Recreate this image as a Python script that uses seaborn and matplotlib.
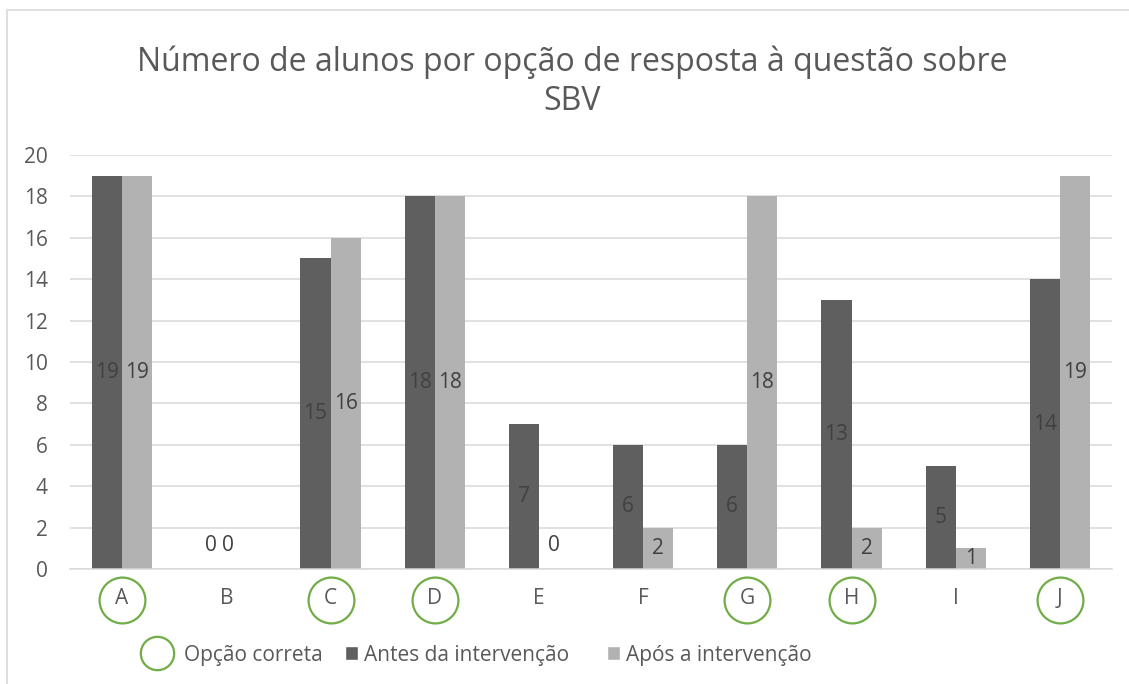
import pandas as pd
import seaborn as sns
import matplotlib.pyplot as plt
from matplotlib.lines import Line2D
from matplotlib.patches import Patch, Rectangle
import matplotlib.transforms as mtransforms

# data
options = ["A", "B", "C", "D", "E", "F", "G", "H", "I", "J"]
antes = [19, 0, 15, 18, 7, 6, 6, 13, 5, 14]
apos = [19, 0, 16, 18, 0, 2, 18, 2, 1, 19]
correct = ["A", "C", "D", "G", "H", "J"]
series = ["Antes da intervenção", "Após a intervenção"]
title = "Número de alunos por opção de resposta à questão sobre\nSBV"

DARK = "#5f5f5f"
LIGHT = "#b2b2b2"
GREEN = "#70ad47"
TEXT = "#595959"
GRID = "#d9d9d9"
FS = 15

df = pd.DataFrame({
    "opcao": options * 2,
    "n": antes + apos,
    "momento": [series[0]] * len(options) + [series[1]] * len(options),
})

sns.set_style("white")
plt.rcParams["font.family"] = ["Open Sans", "DejaVu Sans"]

fig = plt.figure(figsize=(11.29, 6.84), dpi=100)
ax = fig.add_axes([70 / 1129, 1 - 569 / 684, (1112 - 70) / 1129, (569 - 155) / 684])

sns.barplot(data=df, x="opcao", y="n", hue="momento", order=options,
            hue_order=series, palette=[DARK, LIGHT], width=0.576,
            saturation=1, legend=False, linewidth=0, edgecolor="none", ax=ax)

# value labels, centred in each bar (zero bars get the label just above the axis;
# when both bars of an option are zero the two labels sit close together)
both_zero = [a == 0 and b == 0 for a, b in zip(antes, apos)]
for k, cont in enumerate(ax.containers):
    for i, bar in enumerate(cont):
        h = bar.get_height()
        y = h / 2 if h > 0 else 1.15
        x = bar.get_x() + bar.get_width() / 2
        if both_zero[i] and k == 1:
            x -= bar.get_width() * 0.45
        ax.text(x, y, f"{int(h)}", ha="center", va="center",
                fontsize=FS, color="#404040")

ax.set_ylim(0, 20)
ax.set_xlim(-0.5, len(options) - 0.5)
ax.set_yticks(range(0, 21, 2))
ax.yaxis.grid(True, color=GRID, linewidth=1.1)
ax.set_axisbelow(True)
for s in ["top", "right", "left"]:
    ax.spines[s].set_visible(False)
ax.spines["bottom"].set_color(GRID)
ax.spines["bottom"].set_linewidth(1.1)
ax.tick_params(axis="both", length=0, labelsize=FS, labelcolor=TEXT)
ax.tick_params(axis="y", pad=16)
ax.tick_params(axis="x", pad=14)
ax.set_xlabel("")
ax.set_ylabel("")

# green circles round the correct options
trans = mtransforms.blended_transform_factory(ax.transData, ax.transAxes)
cx = [options.index(c) for c in correct]
ax.plot(cx, [-0.075] * len(cx), linestyle="none", marker="o", markersize=33,
        markerfacecolor="none", markeredgecolor=GREEN, markeredgewidth=1.6,
        transform=trans, clip_on=False)

fig.text(0.507, 1 - 82 / 684, title, ha="center", va="center", fontsize=23,
         color=TEXT, linespacing=1.25)

ly = 1 - 655 / 684
fig.legend([Line2D([], [], linestyle="none", marker="o", markersize=24,
                   markerfacecolor="none", markeredgecolor=GREEN,
                   markeredgewidth=1.6)],
           ["Opção correta"], loc="center left",
           bbox_to_anchor=(140 / 1129, ly), frameon=False, fontsize=FS,
           labelcolor=TEXT, handlelength=1.6, handletextpad=0.5,
           borderpad=0, borderaxespad=0)
fig.legend([Patch(facecolor=DARK), Patch(facecolor=LIGHT)], series,
           loc="center left", bbox_to_anchor=(345 / 1129, ly), ncol=2,
           frameon=False, fontsize=FS, labelcolor=TEXT, handlelength=0.63,
           handleheight=0.63, handletextpad=0.3, columnspacing=1.8,
           borderpad=0, borderaxespad=0)

# outer chart frame
fig.patches.append(Rectangle((7 / 1129, -0.1), 1.2, 1 - 10 / 684 + 0.1,
                             transform=fig.transFigure, fill=False,
                             edgecolor=GRID, linewidth=1.2))

plt.savefig("out.png", dpi=100)
plt.close()
